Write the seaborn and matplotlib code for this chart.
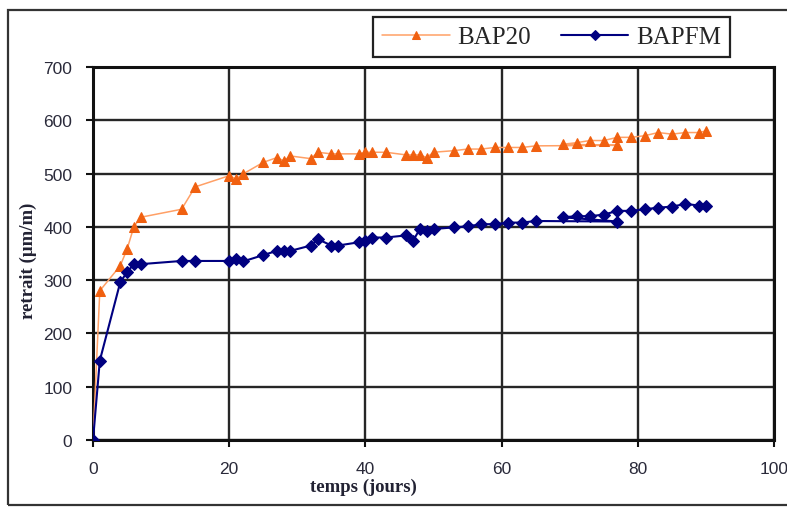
import numpy as np
import pandas as pd
import matplotlib
matplotlib.use("Agg")
import matplotlib.pyplot as plt
from matplotlib.patches import Rectangle
import seaborn as sns

# ---- data ----
temps = [0, 1, 4, 5, 6, 7, 13, 15, 20, 21, 22, 25, 27, 28, 29, 32, 33, 35, 36,
         39, 40, 41, 43, 46, 47, 48, 49, 50, 53, 55, 57, 59, 61, 63, 65, 77,
         69, 71, 73, 75, 77, 79, 81, 83, 85, 87, 89, 90]
bap20 = [0, 280, 327, 358, 400, 418, 433, 475, 496, 490, 499, 521, 530, 524, 533,
         528, 540, 537, 537, 537, 540, 540, 540, 535, 535, 535, 530, 540, 543,
         546, 546, 549, 549, 549, 552, 553, 555, 558, 562, 562, 568, 568, 571,
         577, 574, 577, 577, 580]
bapfm = [0, 149, 296, 315, 330, 330, 336, 336, 336, 340, 335, 347, 355, 355, 355,
         365, 377, 365, 365, 371, 374, 380, 380, 384, 374, 396, 393, 396, 399,
         401, 405, 405, 408, 408, 411, 410, 418, 420, 420, 423, 430, 430, 433,
         436, 438, 443, 440, 440]
series_names = ["BAP20", "BAPFM"]
xticks = [0, 20, 40, 60, 80, 100]
yticks = [0, 100, 200, 300, 400, 500, 600, 700]

df20 = pd.DataFrame({"temps": temps, "retrait": bap20})
dffm = pd.DataFrame({"temps": temps, "retrait": bapfm})

sns.set_theme(style="white")
plt.rcParams["font.family"] = ["Liberation Sans", "DejaVu Sans"]

fig = plt.figure(figsize=(7.87, 5.10), dpi=100)
fig.patch.set_facecolor("white")
ax = fig.add_axes([93 / 787, 1 - 441 / 510, (774 - 93) / 787, (441 - 68) / 510])

# outer frame of the chart object
fig.patches.append(Rectangle((8 / 787, 1 - 506 / 510), 1.2, (506 - 11) / 510,
                             transform=fig.transFigure, fill=False,
                             edgecolor="#333333", linewidth=1.6, zorder=0))

sns.lineplot(data=df20, x="temps", y="retrait", ax=ax, sort=False, estimator=None,
             color="#FFA066", linewidth=1.1, marker="^", markersize=7.5,
             markerfacecolor="#F06010", markeredgecolor="#F06010",
             label=series_names[0], zorder=3)
sns.lineplot(data=dffm, x="temps", y="retrait", ax=ax, sort=False, estimator=None,
             color="#000080", linewidth=1.5, marker="D", markersize=6.5,
             markerfacecolor="#000080", markeredgecolor="#000080",
             label=series_names[1], zorder=4)

ax.set_xlim(0, 100)
ax.set_ylim(0, 700)
ax.set_xticks(xticks)
ax.set_yticks(yticks)
ax.set_xticklabels([str(v) for v in xticks], fontsize=12.5, color="#2a2a3a")
ax.set_yticklabels([str(v) for v in yticks], fontsize=12.5, color="#2a2a3a")
ax.grid(True, color="#262626", linewidth=1.7)
ax.set_axisbelow(True)
for s in ax.spines.values():
    s.set_color("#111111")
    s.set_linewidth(2.2)
ax.tick_params(axis="both", direction="out", length=5, width=1.5, color="#111111",
               bottom=True, left=True, pad=10)

ax.set_xlabel("temps (jours)", family=["Liberation Serif"], fontweight="bold",
              fontsize=13.5, color="#222233")
ax.xaxis.set_label_coords((363 - 93) / 681, -38 / 373)
ax.set_ylabel("retrait (µm/m)", family=["Liberation Serif"], fontweight="bold",
              fontsize=13.5, color="#222233")
ax.yaxis.set_label_coords((37 - 93) / 681, (441 - 261) / 373)

ax.get_legend().remove()
handles, labels = ax.get_legend_handles_labels()
leg = fig.legend(handles, labels, loc="center", bbox_to_anchor=(551.5 / 787, 1 - 38 / 510),
                 ncol=2, frameon=True, fancybox=False, shadow=False,
                 prop={"family": "Liberation Serif", "size": 18},
                 handlelength=2.7, handletextpad=0.3, columnspacing=1.2,
                 borderpad=0.35, markerscale=0.75)
leg.get_frame().set_edgecolor("#222222")
leg.get_frame().set_linewidth(1.6)
leg.get_frame().set_facecolor("white")
leg.get_frame().set_alpha(1)

fig.savefig("out.png", dpi=100, facecolor="white")
